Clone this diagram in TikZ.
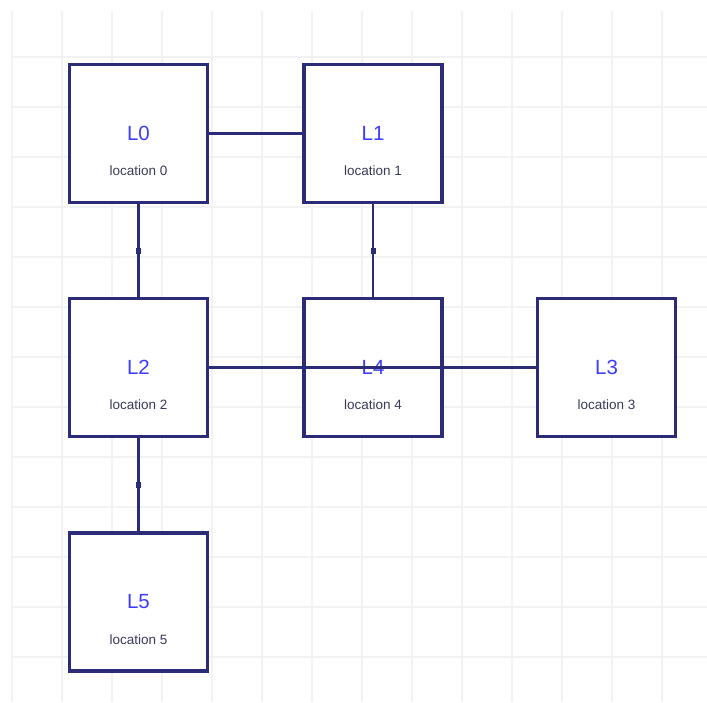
\documentclass[tikz,border=0pt]{standalone}
\usepackage{fontspec}
\setmainfont{Liberation Sans}
\definecolor{navy}{HTML}{2B2B78}
\definecolor{lblue}{HTML}{3C3CFF}
\definecolor{loctext}{HTML}{3A3A5A}
\definecolor{gridc}{HTML}{F2F2F2}
\tikzset{
  locbox/.style={draw=navy, line width=3.2pt, fill=white, minimum width=138pt, minimum height=138pt, inner sep=0pt, text=lblue, font=\fontsize{20.5}{24}\selectfont},
  loclabel/.style={text=loctext, font=\fontsize{13.5}{16}\selectfont, inner sep=0pt},
  conn/.style={draw=navy, line width=2.8pt},
  edgedot/.style={fill=navy, inner sep=0pt, minimum width=5pt, minimum height=6pt},
  gridline/.style={draw=gridc, line width=1.3pt}
}
\begin{document}
\begin{tikzpicture}[x=1pt, y=-1pt]
\useasboundingbox (0,0) rectangle (707,702);
\fill[white] (0,0) rectangle (707,702);
% grid
\foreach \gx in {12,62,...,662} { \draw[gridline] (\gx,11) -- (\gx,702); }
\foreach \gy in {57,107,...,657} { \draw[gridline] (11,\gy) -- (707,\gy); }
% nodes
\node[locbox] (L0) at (138.5,133.5) {\raisebox{-1.5pt}{L0}};
\node[locbox] (L1) at (373,133.5) {\raisebox{-1.5pt}{L1}};
\node[locbox] (L2) at (138.5,367.5) {\raisebox{-1.5pt}{L2}};
\node[locbox] (L4) at (373,367.5) {\raisebox{-1.5pt}{L4}};
\node[locbox] (L3) at (606.5,367.5) {\raisebox{-1.5pt}{L3}};
\node[locbox] (L5) at (138.5,602) {\raisebox{-1.5pt}{L5}};
\node[loclabel] (t0) at ([yshift=-37.5pt]L0.center) {location 0};
\node[loclabel] (t1) at ([yshift=-37.5pt]L1.center) {location 1};
\node[loclabel] (t2) at ([yshift=-37.5pt]L2.center) {location 2};
\node[loclabel] (t4) at ([yshift=-37.5pt]L4.center) {location 4};
\node[loclabel] (t3) at ([yshift=-37.5pt]L3.center) {location 3};
\node[loclabel] (t5) at ([yshift=-37.5pt]L5.center) {location 5};
% connectors
\draw[conn] (L0.east) -- (L1.west);
\draw[conn] (L0.south) -- node[edgedot] (d02) {} (L2.north);
\draw[conn] (L1.south) -- node[edgedot] (d14) {} (L4.north);
\draw[conn] (L2.east) -- (L3.west);
\draw[conn] (L2.south) -- node[edgedot] (d25) {} (L5.north);
\end{tikzpicture}
\end{document}
